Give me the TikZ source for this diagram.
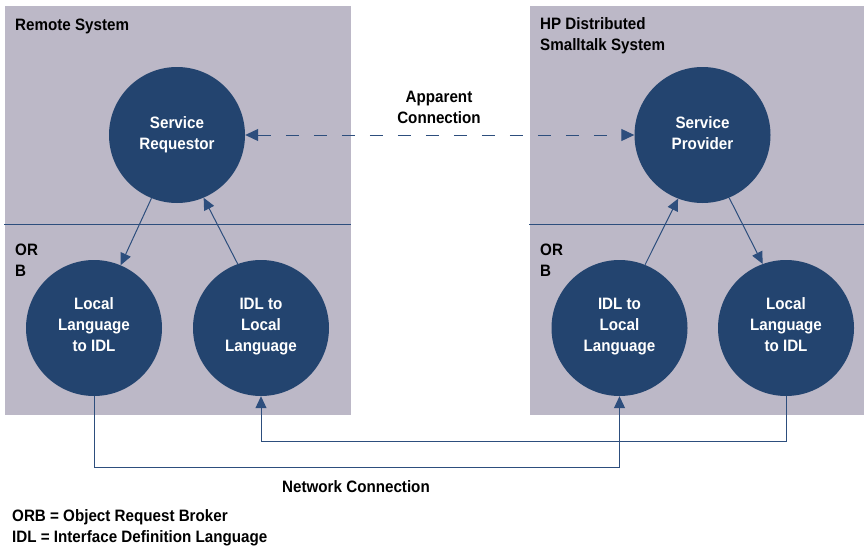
\documentclass[tikz,border=0pt]{standalone}
\usepackage{fontspec}
\setmainfont{Liberation Sans}[FakeStretch=0.92]
\usetikzlibrary{arrows.meta,calc}
\definecolor{panel}{RGB}{188,184,199}
\definecolor{navy}{RGB}{35,68,111}
\definecolor{lineblue}{RGB}{45,78,125}
\tikzset{
  bubble/.style={circle,fill=navy,minimum size=136pt,inner sep=0pt},
  btext/.style={inner sep=0pt,text=white,align=center,anchor=base,font=\bfseries\fontsize{16.5}{21}\selectfont},
  lbl/.style={inner sep=0pt,font=\bfseries\fontsize{16.5}{21}\selectfont,text=black},
  conn/.style={draw=lineblue,line width=1pt,-{Triangle[length=12pt,width=11pt]}},
  plain/.style={draw=lineblue,line width=1pt}
}
\begin{document}
\begin{tikzpicture}[x=1pt,y=-1pt]
\useasboundingbox (0,0) rectangle (864,546);
\fill[white] (0,0) rectangle (864,546);
% panels
\fill[panel] (5,6) rectangle (351,415);
\fill[panel] (530,6) rectangle (864,415);
\draw[plain] (4,224) -- (351,224);
\draw[plain] (529,224) -- (864,224);
% titles (base anchor = last line)
\node[lbl,anchor=base west] (t1) at (15,30) {Remote System};
\node[lbl,anchor=base west,align=left] (t2) at (540,50) {HP Distributed\\Smalltalk System};
\node[lbl,anchor=base west,align=left] (o1) at (15,276) {OR\\B};
\node[lbl,anchor=base west,align=left] (o2) at (540,276) {OR\\B};
% bubbles
\node[bubble] (sr) at (177,135) {};
\node[bubble] (sp) at (702.5,135) {};
\node[bubble] (lla) at (94,328) {};
\node[bubble] (ila) at (261,328) {};
\node[bubble] (ilb) at (619.5,328) {};
\node[bubble] (llb) at (786,328) {};
\node[btext] (srt) at ($(sr.center)+(0,14)$) {Service\\Requestor};
\node[btext] (spt) at ($(sp.center)+(0,14)$) {Service\\Provider};
\node[btext] (llat) at ($(lla.center)+(0,23)$) {Local\\Language\\to IDL};
\node[btext] (ilat) at ($(ila.center)+(0,23)$) {IDL to\\Local\\Language};
\node[btext] (ilbt) at ($(ilb.center)+(0,23)$) {IDL to\\Local\\Language};
\node[btext] (llbt) at ($(llb.center)+(0,23)$) {Local\\Language\\to IDL};
% apparent connection
\draw[draw=lineblue,line width=1pt,dash pattern=on 13pt off 15pt,{Triangle[length=13pt,width=12pt]}-{Triangle[length=13pt,width=12pt]}] (sr) -- (sp);
\node[lbl,align=center,anchor=base] (ac) at (439,123) {Apparent\\Connection};
% local arrows
\draw[conn] (sr.248) -- (lla.67);
\draw[conn] (ila.110) -- (sr.293);
\draw[conn] (ilb.68) -- (sp.249);
\draw[conn] (sp.293) -- (llb.110);
% network
\coordinate (n1) at (0,467);
\coordinate (n2) at (0,441);
\draw[conn] (lla.south) -- (lla.south |- n1) -| (ilb.south);
\draw[conn] (llb.south) -- (llb.south |- n2) -| (ila.south);
\node[lbl,anchor=base] (nc) at (356,492) {Network Connection};
% legend
\node[lbl,anchor=base west,align=left] (lg) at (12,542) {ORB = Object Request Broker\\IDL = Interface Definition Language};
\end{tikzpicture}
\end{document}
